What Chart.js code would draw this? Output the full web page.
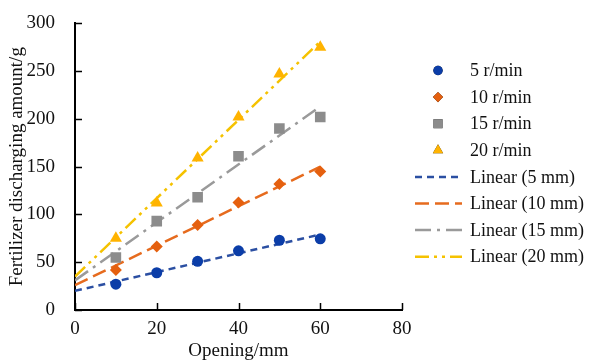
<!DOCTYPE html>
<html>
<head>
<meta charset="utf-8">
<script src="https://cdn.jsdelivr.net/npm/chart.js@4.4.1/dist/chart.umd.min.js"></script>
<style>
  html, body { margin: 0; padding: 0; background: #fff; }
  #wrap { width: 590px; height: 362px; position: relative; }
</style>
</head>
<body>
<div id="wrap"><canvas id="chart"></canvas></div>
<script>
// measured points (opening in mm, discharge in g)
const openings = [10, 20, 30, 40, 50, 60];
const rate5 = [27, 39, 51, 62, 73, 74.5];
const rate10 = [42, 66.5, 89, 112.5, 132, 145];
const rate15 = [55, 93, 118, 161, 190, 202];
const rate20 = [75, 112, 159, 202, 247, 275];

// trend line end points
const trendX = [0, 60];
const trend5 = [20, 79];
const trend10 = [26, 150];
const trend15 = [31, 213];
const trend20 = [35, 281];

const pointLabels = ["5 r/min", "10 r/min", "15 r/min", "20 r/min"];
const lineLabels = ["Linear (5 mm)", "Linear (10 mm)", "Linear (15 mm)", "Linear (20 mm)"];

const FONT = "'Liberation Serif', 'Times New Roman', serif";

function pts(xs, ys) {
  return xs.map((x, i) => ({ x: x, y: ys[i] }));
}

function pointSet(label, ys, color, style, radius) {
  return {
    type: "scatter",
    label: label,
    data: pts(openings, ys),
    backgroundColor: color,
    borderColor: color,
    borderWidth: 0,
    pointStyle: style,
    pointRadius: radius,
    pointHoverRadius: radius,
  };
}

function lineSet(label, ys, color, dash) {
  return {
    type: "line",
    label: label,
    data: pts(trendX, ys),
    borderColor: color,
    backgroundColor: color,
    borderWidth: 2.5,
    borderDash: dash,
    pointRadius: 0,
    fill: false,
    tension: 0,
  };
}

const datasets = [
  pointSet(pointLabels[0], rate5, "#0B3DA8", "circle", 5.5),
  pointSet(pointLabels[1], rate10, "#E5600F", "rectRot", 6),
  pointSet(pointLabels[2], rate15, "#8C8C8C", "rect", 7.5),
  pointSet(pointLabels[3], rate20, "#FFB300", "triangle", 7),
  lineSet(lineLabels[0], trend5, "#2B4FA2", [7, 5]),
  lineSet(lineLabels[1], trend10, "#E66B1E", [14, 6]),
  lineSet(lineLabels[2], trend15, "#9A9A9A", [16, 6, 3, 6]),
  lineSet(lineLabels[3], trend20, "#F5C200", [14, 5, 3, 5, 3, 5]),
];

// ticks pointing into the plot
const innerTicks = {
  id: "innerTicks",
  afterDraw(chart) {
    const ctx = chart.ctx;
    const xs = chart.scales.x, ys = chart.scales.y;
    ctx.save();
    ctx.strokeStyle = "#000";
    ctx.lineWidth = 1.5;
    ctx.beginPath();
    xs.ticks.forEach((t) => {
      const px = Math.round(xs.getPixelForValue(t.value)) + 0.5;
      ctx.moveTo(px, xs.top);
      ctx.lineTo(px, xs.top - 7);
    });
    ys.ticks.forEach((t) => {
      const py = Math.round(ys.getPixelForValue(t.value)) + 0.5;
      ctx.moveTo(ys.right, py);
      ctx.lineTo(ys.right + 7, py);
    });
    ctx.stroke();
    ctx.restore();
  },
};

// legend on the right
const sideLegend = {
  id: "sideLegend",
  afterDraw(chart) {
    const ctx = chart.ctx;
    const top = 70.5, step = 26.6;
    ctx.save();
    ctx.font = "18px " + FONT;
    ctx.textBaseline = "middle";
    ctx.fillStyle = "#111";
    chart.data.datasets.forEach((ds, i) => {
      const y = top + i * step;
      if (ds.type === "scatter") {
        Chart.helpers.drawPoint(ctx, {
          pointStyle: ds.pointStyle,
          radius: ds.pointRadius * 0.85,
          borderWidth: 0,
        }, 438, y);
        ctx.fillStyle = ds.backgroundColor;
        ctx.fill();
      } else {
        ctx.save();
        ctx.strokeStyle = ds.borderColor;
        ctx.lineWidth = 2.5;
        ctx.setLineDash(ds.borderDash);
        ctx.beginPath();
        ctx.moveTo(415, y);
        ctx.lineTo(462, y);
        ctx.stroke();
        ctx.restore();
      }
      ctx.fillStyle = "#111";
      ctx.fillText(ds.label, 470, y + 1);
    });
    ctx.restore();
  },
};

new Chart(document.getElementById("chart"), {
  type: "scatter",
  data: { datasets: datasets },
  options: {
    responsive: true,
    maintainAspectRatio: false,
    animation: false,
    layout: { padding: { left: 0, top: 20, right: 188, bottom: 0 } },
    plugins: {
      legend: { display: false },
      tooltip: { enabled: false },
    },
    scales: {
      x: {
        type: "linear",
        min: 0,
        max: 80,
        ticks: { stepSize: 20, color: "#111", padding: 0, font: { family: FONT, size: 19 } },
        grid: { display: false },
        border: { color: "#000", width: 2 },
        title: {
          display: true,
          text: "Opening/mm",
          color: "#111",
          font: { family: FONT, size: 19 },
          padding: { top: 0, bottom: 0 },
        },
        afterFit(scale) { scale.height = 52; },
      },
      y: {
        type: "linear",
        min: 0,
        max: 300,
        ticks: { stepSize: 50, color: "#111", padding: 12, font: { family: FONT, size: 19 } },
        grid: { display: false },
        border: { color: "#000", width: 2 },
        title: {
          display: true,
          text: "Fertilizer discharging amount/g",
          color: "#111",
          font: { family: FONT, size: 19 },
          padding: { top: 6, bottom: 0 },
        },
        afterFit(scale) { scale.width = 75; },
      },
    },
  },
  plugins: [innerTicks, sideLegend],
});
</script>
</body>
</html>
